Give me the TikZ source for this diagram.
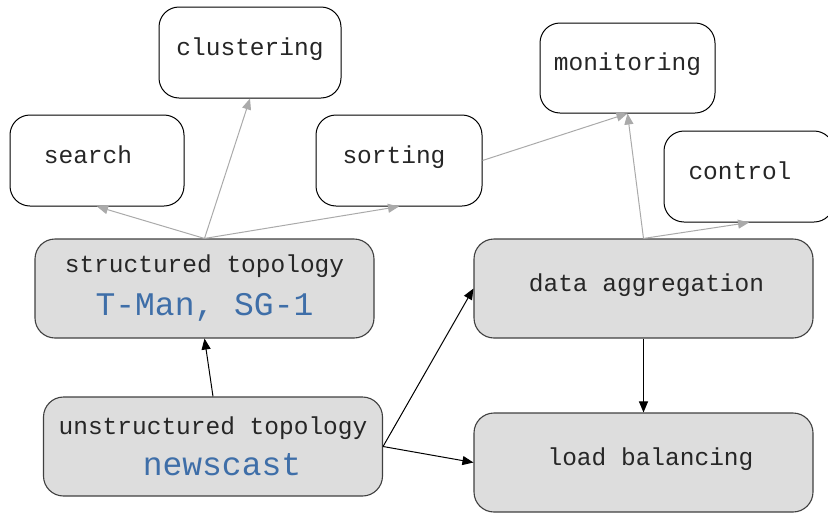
\documentclass[tikz,border=0pt]{standalone}
\usepackage{fontspec}
\setmonofont{Liberation Mono}
\usepackage{xcolor}
\usepackage{tikz}
\usetikzlibrary{
	positioning,    % posizionamento relativo
	arrows.meta     % punte delle frecce
}
\definecolor{boxgray}{RGB}{221,221,221}
\definecolor{linegray}{RGB}{170,170,170}
\definecolor{namesblue}{RGB}{62,110,168}

\begin{document}
\begin{tikzpicture}[x=1pt, y=-1pt, >={Triangle[length=11pt,width=9pt]},
	apptext/.style={font=\ttfamily\fontsize{24.5}{39}\selectfont, text=black!85},
	protobox/.style={apptext, draw=black!75, fill=boxgray, rounded corners=20pt, line width=1.1pt, minimum width=339pt, minimum height=99pt, align=center},
	appbox/.style={apptext, draw=black, fill=white, rounded corners=20pt, line width=1pt, minimum height=91pt},
	oneline/.style={text depth=12pt},
	uses/.style={->, linegray, line width=1pt},
	feeds/.style={->, black, line width=1pt}]
		% Definizioni per il testo blu
		\def\impl#1{{\color{namesblue}\fontsize{33}{39}\selectfont #1}}
		
		% --- Area visibile ---
		\clip (0,0) rectangle (828,512);
		
		% --- Protocolli di base ---
		\node[protobox] (structured) at (204.5,288.5) {structured topology\\[4pt]\impl{T-Man, SG-1}};
		\node[protobox] (unstructured) at (213,446.5) {unstructured topology\\[2pt]\hspace*{18pt}\impl{newscast}};
		\node[protobox, oneline] (aggregation) at (643.5,288.5) {\hspace*{6pt}data aggregation};
		\node[protobox, oneline] (balancing) at (643.5,462.5) {\hspace*{14pt}load balancing};
		
		% --- Applicazioni ---
		\node[appbox, oneline, minimum width=174pt] (search) at (97,160.5) {search\hspace*{18pt}};
		\node[appbox, oneline, minimum width=182pt] (clustering) at (250,52.5) {clustering};
		\node[appbox, oneline, minimum width=166pt] (sorting) at (399,160.5) {sorting\hspace*{10pt}};
		\node[appbox, oneline, minimum width=175pt, minimum height=90pt] (monitoring) at (627.5,68) {monitoring};
		\node[appbox, oneline, minimum width=170pt] (control) at (749,176.5) {control\hspace*{18pt}};
		
		% --- Frecce nere ---
		\draw[feeds] (unstructured.north) -- (structured.south);
		\draw[feeds] (unstructured.east) -- (aggregation.west);
		\draw[feeds] (unstructured.east) -- (balancing.west);
		\draw[feeds] (aggregation.south) -- (balancing.north);
		
		% --- Frecce grigie ---
		\draw[uses] (structured.north) -- (search.south);
		\draw[uses] (structured.north) -- (clustering.south);
		\draw[uses] (structured.north) -- (sorting.south);
		\draw[uses] (sorting.east) -- (monitoring.south);
		\draw[uses] (aggregation.north) -- (monitoring.south);
		\draw[uses] (aggregation.north) -- (control.south);
\end{tikzpicture}
\end{document}
